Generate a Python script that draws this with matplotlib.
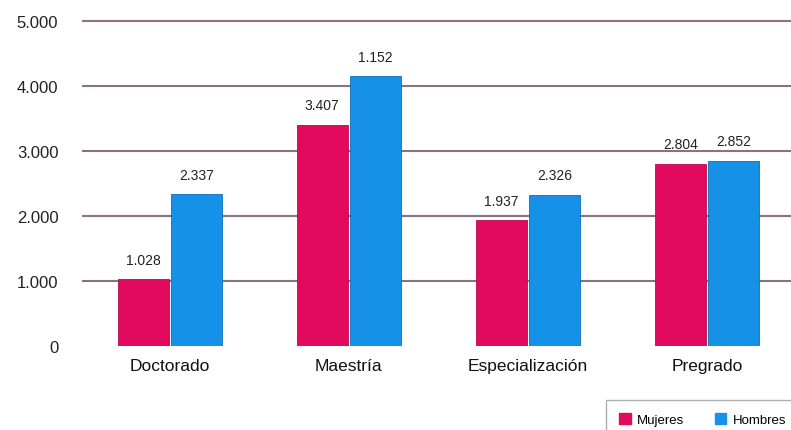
import matplotlib
matplotlib.use("Agg")
import matplotlib.pyplot as plt
import numpy as np
from matplotlib.patches import Patch

categories = ["Doctorado", "Maestría", "Especialización", "Pregrado"]
mujeres = [1028, 3407, 1937, 2804]
hombres = [2337, 4152, 2326, 2852]
mujeres_labels = ["1.028", "3.407", "1.937", "2.804"]
hombres_labels = ["2.337", "1.152", "2.326", "2.852"]
yticks = [0, 1000, 2000, 3000, 4000, 5000]
ytick_labels = ["0", "1.000", "2.000", "3.000", "4.000", "5.000"]

pink = "#E20A5E"
blue = "#1591E8"

plt.rcParams['font.family'] = ['Liberation Sans', 'DejaVu Sans']

W, H = 791, 431
fig = plt.figure(figsize=(W / 100, H / 100), dpi=100)
ax_left, ax_bottom_px = 82, 347
ax = fig.add_axes([ax_left / W, 1 - ax_bottom_px / H, (W - ax_left) / W, ax_bottom_px / H])

x = np.arange(len(categories))
bw = 0.285
off = 0.148
ax.bar(x - off, mujeres, bw, color=pink, edgecolor="#B8084C", linewidth=0.6, zorder=3)
ax.bar(x + off, hombres, bw, color=blue, edgecolor="#0E6FB5", linewidth=0.6, zorder=3)

for xi, v, t in zip(x - off, mujeres, mujeres_labels):
    ax.annotate(t, (xi, v), xytext=(0, 9), textcoords="offset points",
                ha="center", va="bottom", fontsize=10, color="#222222")
for xi, v, t in zip(x + off, hombres, hombres_labels):
    ax.annotate(t, (xi, v), xytext=(0, 9), textcoords="offset points",
                ha="center", va="bottom", fontsize=10, color="#222222")

ax.set_xlim(-0.49, 3.47)
ax.set_ylim(0, ax_bottom_px / 65 * 1000)
ax.set_yticks(yticks)
ax.set_yticklabels(ytick_labels, fontsize=12, color="#222222")
ax.set_xticks(x)
ax.set_xticklabels(categories, fontsize=12.5, color="#111111")
ax.tick_params(axis="y", length=0, pad=17)
ax.tick_params(axis="x", length=0, pad=9)
for s in ax.spines.values():
    s.set_visible(False)
for yv in yticks[1:]:
    ax.axhline(yv, color="#8A7282", linewidth=1.5, zorder=1)

handles = [Patch(facecolor=pink, edgecolor=pink), Patch(facecolor=blue, edgecolor=blue)]
leg = fig.legend(handles, ["Mujeres", "Hombres"], loc="upper left",
                 bbox_to_anchor=(606 / W, 1 - 401 / H), ncol=2, fontsize=9.5,
                 frameon=True, fancybox=False, edgecolor="#999999",
                 handlelength=0.9, handleheight=0.9, columnspacing=2.3,
                 handletextpad=0.45, borderpad=1.0, borderaxespad=0)
leg.get_frame().set_linewidth(1.0)

fig.savefig("out.png", dpi=100, facecolor="white")
